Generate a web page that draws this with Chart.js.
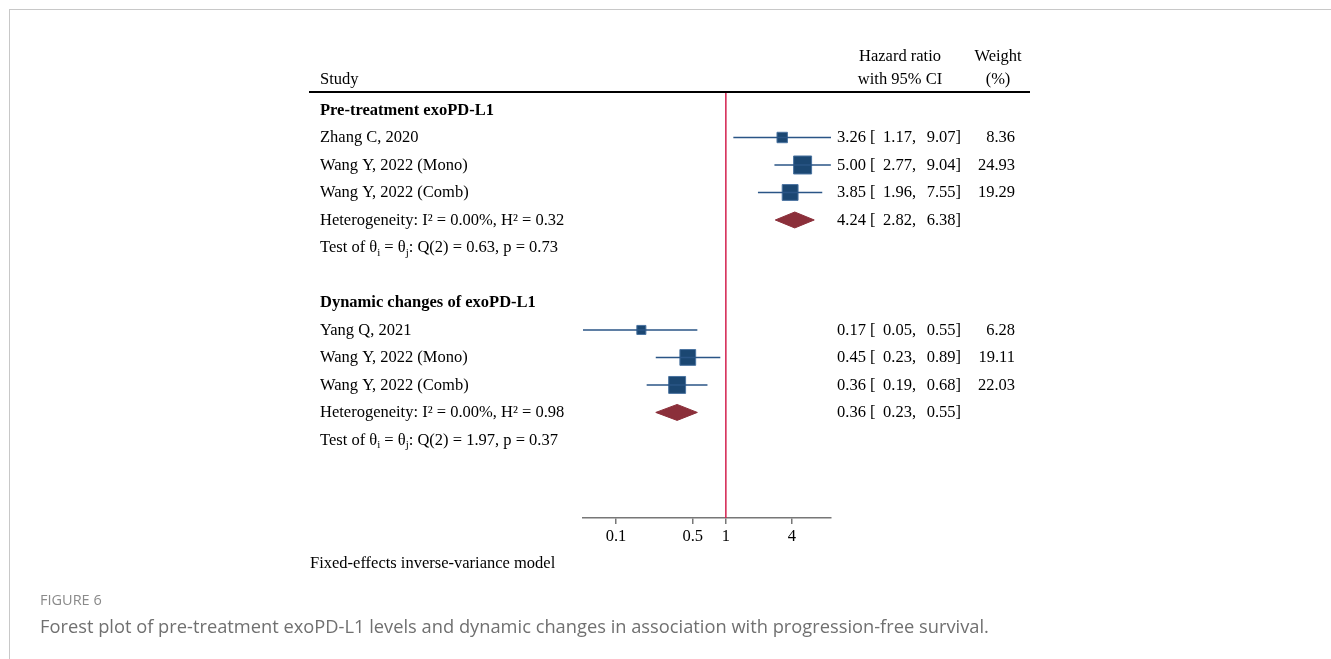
<!DOCTYPE html>
<html>
<head>
<meta charset="utf-8">
<script src="https://cdn.jsdelivr.net/npm/chart.js@4.4.0/dist/chart.umd.min.js"></script>
<style>
body { margin: 0; background: #fff; }
#wrap { position: relative; width: 1331px; height: 659px; overflow: hidden; }
#frame { position: absolute; left: 9px; top: 9px; right: 0; bottom: 0; border-top: 1px solid #c8c8c8; border-left: 1px solid #c8c8c8; }
canvas { position: absolute; left: 0; top: 0; }
.fig { position: absolute; left: 40px; top: 590px; font-family: 'Open Sans'; font-size: 14.5px; color: #8a8a8a; }
.cap { position: absolute; left: 40px; top: 613px; font-family: 'Open Sans'; font-size: 18.3px; color: #707070; white-space: nowrap; }
</style>
</head>
<body>
<div id="wrap">
  <div id="frame"></div>
  <canvas id="forest" width="1331" height="659"></canvas>
  <div class="fig">FIGURE 6</div>
  <div class="cap">Forest plot of pre-treatment exoPD-L1 levels and dynamic changes in association with progression-free survival.</div>
</div>
<script>
// study level data
const studies = ['Zhang C, 2020', 'Wang Y, 2022 (Mono)', 'Wang Y, 2022 (Comb)', 'Yang Q, 2021', 'Wang Y, 2022 (Mono)', 'Wang Y, 2022 (Comb)'];
const studyRows = [1, 2, 3, 8, 9, 10];
const hr = [3.26, 5.00, 3.85, 0.17, 0.45, 0.36];
const ciLow = [1.17, 2.77, 1.96, 0.05, 0.23, 0.19];
const ciHigh = [9.07, 9.04, 7.55, 0.55, 0.89, 0.68];
const weights = [8.36, 24.93, 19.29, 6.28, 19.11, 22.03];

// subgroups + pooled estimates
const groups = ['Pre-treatment exoPD-L1', 'Dynamic changes of exoPD-L1'];
const groupRows = [0, 7];
const pooledRows = [4, 11];
const pooledHr = [4.24, 0.36];
const pooledLow = [2.82, 0.23];
const pooledHigh = [6.38, 0.55];
const iSq = ['0.00%', '0.00%'];
const hSq = [0.32, 0.98];
const qStat = [0.63, 1.97];
const pVal = [0.73, 0.37];

const tickValues = [0.1, 0.5, 1, 4];
const rowMin = -0.655, rowMax = 14.84;

const serif = '"Liberation Serif", "Times New Roman", serif';
const fontPx = 16.5;
const navy = '#1b4772';
const maroon = '#8b2f3a';

const datasets = [];

// line of no effect
datasets.push({
    data: [{ x: 1, y: rowMin }, { x: 1, y: rowMax }],
    borderColor: '#d3224f', borderWidth: 1.5, pointRadius: 0
});

// confidence intervals
hr.forEach((v, i) => {
    datasets.push({
        data: [{ x: ciLow[i], y: studyRows[i] }, { x: ciHigh[i], y: studyRows[i] }],
        borderColor: '#2a5586', borderWidth: 1.5, pointRadius: 0
    });
});

// study markers, sized by weight
datasets.push({
    data: hr.map((v, i) => ({ x: v, y: studyRows[i] })),
    showLine: false,
    pointStyle: 'rect',
    pointRadius: weights.map(w => 2.55 * Math.sqrt(w)),
    backgroundColor: navy,
    borderColor: '#4a73a0',
    borderWidth: 1
});

// pooled diamonds
pooledHr.forEach((v, i) => {
    const r = pooledRows[i];
    datasets.push({
        data: [
            { x: pooledLow[i], y: r }, { x: v, y: r - 0.29 },
            { x: pooledHigh[i], y: r }, { x: v, y: r + 0.29 },
            { x: pooledLow[i], y: r }
        ],
        fill: 'shape',
        backgroundColor: maroon,
        borderColor: maroon,
        borderWidth: 1,
        pointRadius: 0,
        tension: 0
    });
});

function fmt(v) { return v.toFixed(2); }

// draws text pieces with optional subscripts
function drawRich(ctx, parts, x, y) {
    parts.forEach(p => {
        if (p.sub) {
            ctx.font = '11px ' + serif;
            ctx.fillText(p.t, x, y + 5);
        } else {
            ctx.font = fontPx + 'px ' + serif;
            ctx.fillText(p.t, x, y);
        }
        x += ctx.measureText(p.t).width;
    });
}

const textPlugin = {
    id: 'forestText',
    afterDraw(chart) {
        const ctx = chart.ctx;
        const ys = chart.scales.y;
        const top = chart.chartArea.top;
        ctx.save();
        ctx.fillStyle = '#000';
        ctx.textBaseline = 'middle';
        ctx.font = fontPx + 'px ' + serif;

        // headers
        ctx.textAlign = 'left';
        ctx.fillText('Study', 320, 80);
        ctx.textAlign = 'center';
        ctx.fillText('Hazard ratio', 900, 57);
        ctx.fillText('with 95% CI', 900, 80);
        ctx.fillText('Weight', 998, 57);
        ctx.fillText('(%)', 998, 80);

        ctx.strokeStyle = '#000';
        ctx.lineWidth = 2;
        ctx.beginPath();
        ctx.moveTo(309, top);
        ctx.lineTo(1030, top);
        ctx.stroke();

        function hrText(y, est, lo, hi) {
            ctx.textAlign = 'left';
            ctx.fillText(fmt(est), 837, y);
            ctx.fillText('[', 870, y);
            ctx.textAlign = 'right';
            ctx.fillText(fmt(lo) + ',', 916, y);
            ctx.fillText(fmt(hi) + ']', 961, y);
        }

        // study rows
        studies.forEach((s, i) => {
            const y = ys.getPixelForValue(studyRows[i]) + 0.5;
            ctx.textAlign = 'left';
            ctx.fillText(s, 320, y);
            hrText(y, hr[i], ciLow[i], ciHigh[i]);
            ctx.textAlign = 'right';
            ctx.fillText(fmt(weights[i]), 1015, y);
        });

        groups.forEach((g, i) => {
            ctx.textAlign = 'left';
            ctx.font = 'bold ' + fontPx + 'px ' + serif;
            ctx.fillText(g, 320, ys.getPixelForValue(groupRows[i]) + 0.5);
            ctx.font = fontPx + 'px ' + serif;
            const py = ys.getPixelForValue(pooledRows[i]) + 0.5;
            ctx.fillText('Heterogeneity: I\u00b2 = ' + iSq[i] + ', H\u00b2 = ' + fmt(hSq[i]), 320, py);
            hrText(py, pooledHr[i], pooledLow[i], pooledHigh[i]);
            ctx.textAlign = 'left';
            drawRich(ctx, [
                { t: 'Test of \u03b8' }, { t: 'i', sub: true }, { t: ' = \u03b8' }, { t: 'j', sub: true },
                { t: ': Q(2) = ' + fmt(qStat[i]) + ', p = ' + fmt(pVal[i]) }
            ], 320, ys.getPixelForValue(pooledRows[i] + 1) + 0.5);
        });

        ctx.font = fontPx + 'px ' + serif;
        ctx.textAlign = 'left';
        ctx.fillText('Fixed-effects inverse-variance model', 310, 564);
        ctx.restore();
    }
};

new Chart(document.getElementById('forest').getContext('2d'), {
    type: 'line',
    data: { datasets: datasets },
    options: {
        responsive: false,
        animation: false,
        events: [],
        layout: { padding: { left: 583, right: 500, top: 92, bottom: 111 } },
        plugins: { legend: { display: false }, tooltip: { enabled: false } },
        scales: {
            x: {
                type: 'logarithmic',
                min: 0.05,
                max: 9.07,
                afterBuildTicks: s => { s.ticks = tickValues.map(v => ({ value: v })); },
                afterFit: s => { s.height = 30; },
                ticks: {
                    callback: v => String(v),
                    font: { family: serif, size: fontPx },
                    color: '#000',
                    maxRotation: 0,
                    autoSkip: false,
                    padding: 3
                },
                grid: { drawOnChartArea: false, drawTicks: true, tickLength: 6, color: '#777', lineWidth: 1.5 },
                border: { color: '#777', width: 1.5 }
            },
            y: { type: 'linear', min: rowMin, max: rowMax, reverse: true, display: false }
        }
    },
    plugins: [textPlugin]
});
</script>
</body>
</html>
